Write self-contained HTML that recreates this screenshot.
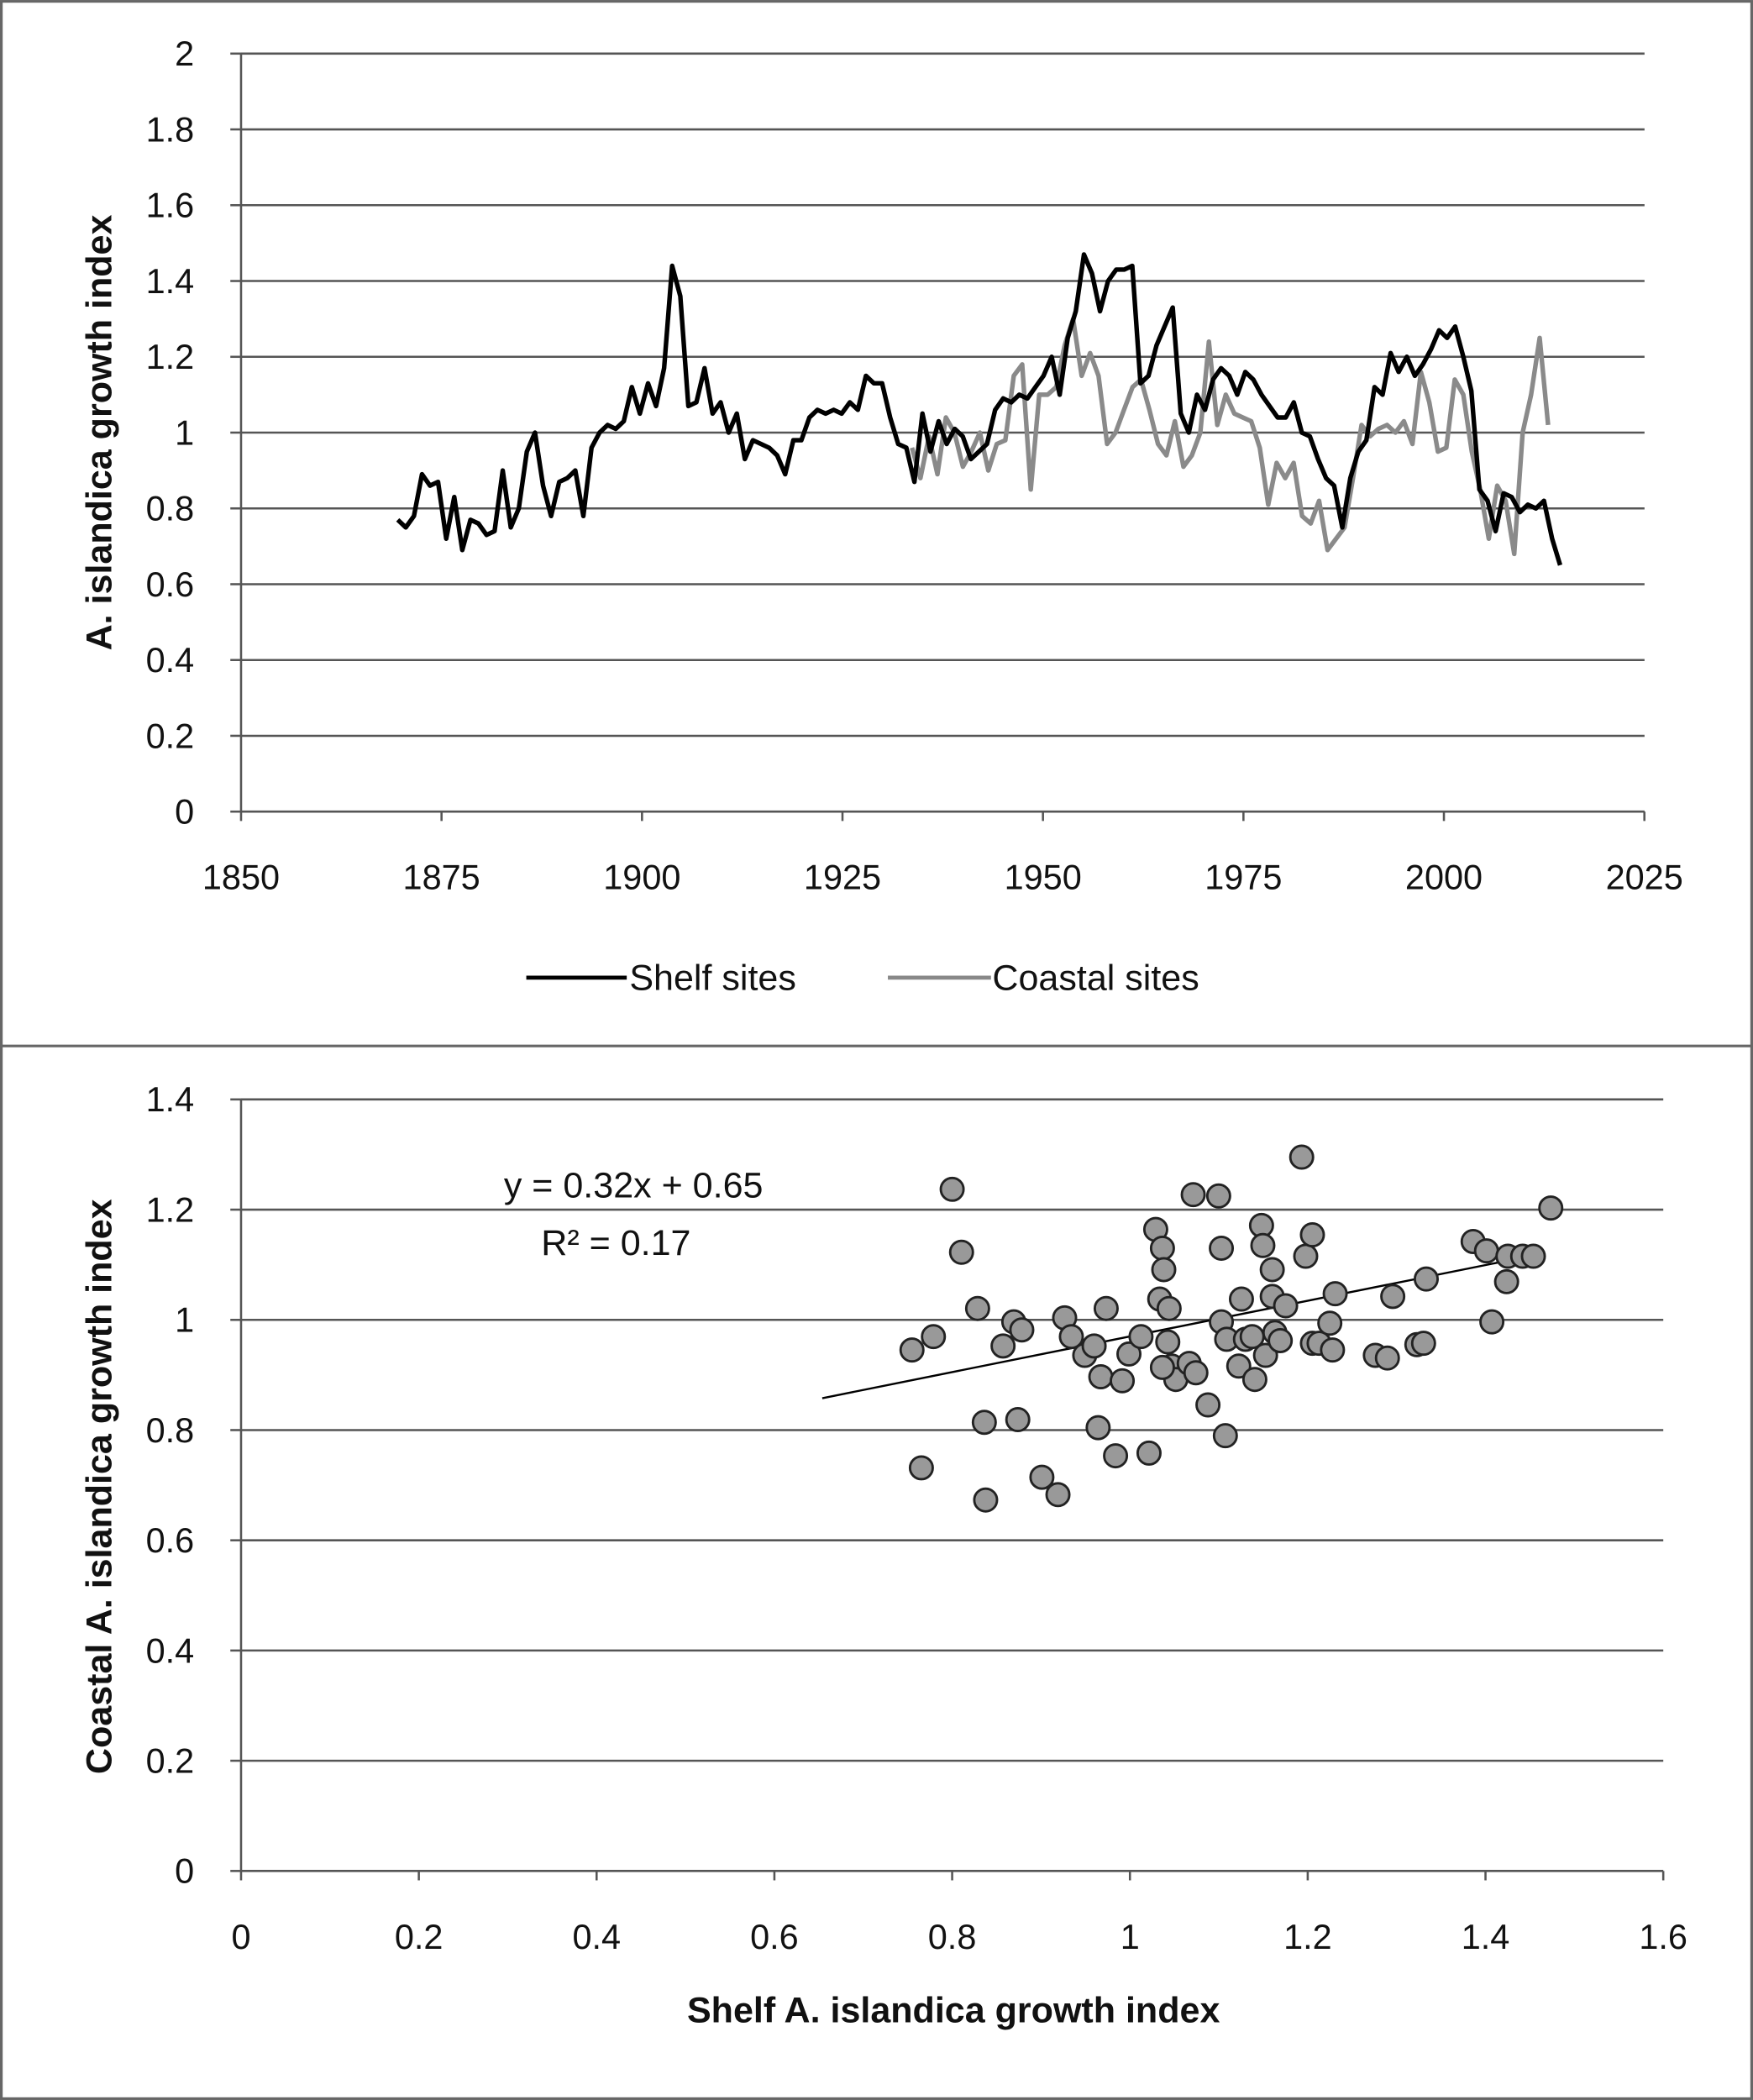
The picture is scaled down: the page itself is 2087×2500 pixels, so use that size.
<!DOCTYPE html>
<html><head><meta charset="utf-8"><style>html,body{margin:0;padding:0;background:#fff}svg{display:block}text{font-family:"Liberation Sans",sans-serif}</style></head>
<body>
<svg id="s" width="2087" height="2500" viewBox="0 0 1309 1568" xmlns="http://www.w3.org/2000/svg">
<rect x="1" y="1" width="1307" height="1566" fill="#fff" stroke="#666" stroke-width="2"/>
<line x1="0" y1="781" x2="1309" y2="781" stroke="#666" stroke-width="2"/>
<g id="gtop" stroke="#555" stroke-width="1.6"></g>
<g id="gbot" stroke="#555" stroke-width="1.6"></g>
<g font-size="24" fill="#111">
<text transform="translate(83,323) rotate(-90)" text-anchor="middle" font-weight="bold" font-size="27">A. islandica  growth index</text>
<text transform="translate(83,1110) rotate(-90)" text-anchor="middle" font-weight="bold" font-size="27">Coastal A. islandica  growth index</text>
<text x="712" y="1510" text-anchor="middle" font-weight="bold" font-size="27">Shelf A. islandica  growth index</text>
<line x1="393" y1="730" x2="468" y2="730" stroke="#000" stroke-width="3"/>
<text x="470" y="739" font-size="27">Shelf sites</text>
<line x1="663" y1="730" x2="740" y2="730" stroke="#888" stroke-width="3"/>
<text x="741" y="739" font-size="27">Coastal sites</text>
<text x="473" y="894" text-anchor="middle" font-size="27">y = 0.32x + 0.65</text>
<text x="460" y="937" text-anchor="middle" font-size="27">R² = 0.17</text>
</g>
<g id="gdata"></g>
</svg>
<script>
(function(){
var NS="http://www.w3.org/2000/svg",s=document.getElementById('s');
function el(t,a,p){var e=document.createElementNS(NS,t);for(var k in a)e.setAttribute(k,a[k]);(p||s).appendChild(e);return e}
function tx(x,y,str,anc){var e=el('text',{x:x,y:y,'text-anchor':anc,'font-size':26,fill:'#111'});e.textContent=str}
function lab(v){return v==0?'0':v.toFixed(1).replace(/\.0$/,'')}
var gt=document.getElementById('gtop'),gb=document.getElementById('gbot'),gd=document.getElementById('gdata');
for(var i=0;i<=10;i++){var y=606-i*56.6;el('line',{x1:180,y1:y,x2:1228,y2:y},gt);tx(145,y+9,lab(i*0.2),'end');el('line',{x1:172,y1:y,x2:180,y2:y},gt)}
el('line',{x1:180,y1:40,x2:180,y2:606},gt);
for(var i=0;i<=7;i++){var x=180+i*149.7;el('line',{x1:x,y1:606,x2:x,y2:613},gt);tx(x,664,String(1850+25*i),'middle')}
for(var i=0;i<=7;i++){var y=1397-i*82.3;el('line',{x1:180,y1:y,x2:1242,y2:y},gb);tx(145,y+9,lab(i*0.2),'end');el('line',{x1:172,y1:y,x2:180,y2:y},gb)}
el('line',{x1:180,y1:821,x2:180,y2:1397},gb);
for(var i=0;i<=8;i++){var x=180+i*132.75;el('line',{x1:x,y1:1397,x2:x,y2:1404},gb);tx(x,1455,lab(i*0.2),'middle')}
function Y(v){return 606-v*283}
var shelf=[0.77,0.75,0.78,0.89,0.86,0.87,0.72,0.83,0.69,0.77,0.76,0.73,0.74,0.9,0.75,0.8,0.95,1.0,0.86,0.78,0.87,0.88,0.9,0.78,0.96,1.0,1.02,1.01,1.03,1.12,1.05,1.13,1.07,1.17,1.44,1.36,1.07,1.08,1.17,1.05,1.08,1.0,1.05,0.93,0.98,0.97,0.96,0.94,0.89,0.98,0.98,1.04,1.06,1.05,1.06,1.05,1.08,1.06,1.15,1.13,1.13,1.04,0.97,0.96,0.87,1.05,0.95,1.03,0.97,1.01,0.99,0.93,0.95,0.97,1.06,1.09,1.08,1.1,1.09,1.12,1.15,1.2,1.1,1.25,1.32,1.47,1.42,1.32,1.4,1.43,1.43,1.44,1.13,1.15,1.23,1.28,1.33,1.05,1.0,1.1,1.06,1.14,1.17,1.15,1.1,1.16,1.14,1.1,1.07,1.04,1.04,1.08,1.0,0.99,0.93,0.88,0.86,0.75,0.88,0.95,0.98,1.12,1.1,1.21,1.16,1.2,1.15,1.18,1.22,1.27,1.25,1.28,1.2,1.11,0.85,0.82,0.74,0.84,0.83,0.79,0.81,0.8,0.82,0.72,0.65];
var coast=[0.96,0.88,0.99,0.89,1.04,1.0,0.91,0.95,1.0,0.9,0.97,0.98,1.15,1.18,0.85,1.1,1.1,1.12,1.23,1.3,1.15,1.21,1.15,0.97,1.0,1.06,1.12,1.14,1.06,0.97,0.94,1.03,0.91,0.94,1.0,1.24,1.02,1.1,1.05,1.04,1.03,0.96,0.81,0.92,0.88,0.92,0.78,0.76,0.82,0.69,0.72,0.75,0.88,1.02,0.99,1.01,1.02,1.0,1.03,0.97,1.16,1.08,0.95,0.96,1.14,1.1,0.95,0.85,0.72,0.86,0.82,0.68,1.0,1.1,1.25,1.02];
function line(arr,x0,x1,col){var p=arr.map(function(v,i){return (x0+(x1-x0)*i/(arr.length-1)).toFixed(1)+','+Y(v).toFixed(1)}).join(' ');el('polyline',{points:p,fill:'none',stroke:col,'stroke-width':3.4,'stroke-linejoin':'round'},gd)}
line(coast,681,1156,'#8a8a8a');line(shelf,297,1165,'#000');
el('line',{x1:614,y1:1044,x2:1142,y2:938,stroke:'#000','stroke-width':1.5},gd);
var pts=[[681,1008],[697,998],[711,888],[718,935],[730,977],[749,1005],[735,1062],[760,1060],[688,1096],[736,1120],[757,987],[763,993],[778,1103],[790,1116],[795,984],[800,998],[810,1012],[817,1005],[826,977],[822,1028],[820,1066],[833,1087],[838,1031],[843,1011],[852,998],[858,1085],[863,918],[868,932],[866,970],[869,948],[873,977],[872,1002],[875,1020],[878,1030],[868,1021],[888,1018],[891,892],[893,1025],[902,1049],[910,893],[912,932],[912,987],[916,1000],[915,1072],[925,1020],[927,970],[930,1000],[935,998],[937,1030],[942,915],[943,930],[945,1012],[950,948],[950,968],[952,995],[956,1001],[960,975],[972,864],[975,938],[980,922],[980,1003],[985,1003],[993,988],[995,1008],[997,966],[1027,1012],[1036,1014],[1040,968],[1058,1004],[1063,1003],[1065,955],[1100,927],[1110,934],[1114,987],[1126,938],[1125,957],[1137,938],[1145,938],[1158,902]];
pts.forEach(function(p){el('circle',{cx:p[0],cy:p[1],r:8.5,fill:'#999',stroke:'#222','stroke-width':1.8},gd)});
})();
</script>
</body></html>
